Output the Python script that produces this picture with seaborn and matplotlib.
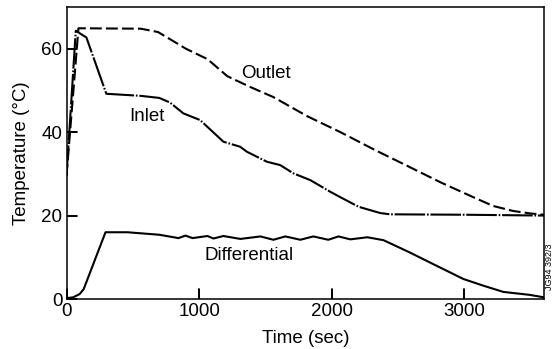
import matplotlib
matplotlib.use('Agg')
import matplotlib.pyplot as plt
import seaborn as sns
import pandas as pd

# ---- data ----
time_outlet = [0, 90, 560, 690, 806, 900, 1063, 1213, 1387, 1560, 1816, 2065, 2314, 2570, 2818, 3067, 3217, 3368, 3500, 3600]
outlet = [29.5, 64.9, 64.8, 64.0, 61.8, 60.0, 57.5, 53.4, 50.8, 48.4, 43.8, 40.0, 35.9, 31.9, 28.0, 24.4, 22.3, 21.1, 20.5, 20.2]

time_inlet = [0, 70, 150, 300, 560, 700, 780, 881, 1007, 1183, 1309, 1360, 1511, 1611, 1712, 1838, 1989, 2065, 2203, 2366, 2440, 3000, 3600]
inlet = [29.5, 64.3, 62.7, 49.2, 48.7, 48.2, 47.1, 44.5, 42.9, 37.7, 36.5, 35.3, 32.9, 32.1, 30.1, 28.5, 25.7, 24.4, 22.1, 20.6, 20.3, 20.2, 20.0]

time_diff = [0, 50, 100, 130, 294, 460, 700, 844, 897, 950, 1063, 1108, 1183, 1311, 1462, 1560, 1650, 1763, 1861, 1974, 2050, 2140, 2268, 2390, 2585, 2788, 2992, 3142, 3293, 3490, 3600]
diff = [0.2, 0.4, 1.2, 2.4, 16.0, 16.0, 15.4, 14.6, 15.2, 14.6, 15.1, 14.5, 15.1, 14.4, 15.0, 14.2, 15.0, 14.2, 15.0, 14.2, 15.0, 14.3, 14.8, 14.1, 11.2, 8.0, 4.8, 3.2, 1.7, 1.0, 0.4]

x_ticks = [0, 1000, 2000, 3000]
y_ticks = [0, 20, 40, 60]
series_labels = ['Outlet', 'Inlet', 'Differential']

df_out = pd.DataFrame({'t': time_outlet, 'T': outlet})
df_in = pd.DataFrame({'t': time_inlet, 'T': inlet})
df_diff = pd.DataFrame({'t': time_diff, 'T': diff})

sns.set_style('ticks', {'axes.edgecolor': 'black', 'text.color': 'black',
                        'xtick.color': 'black', 'ytick.color': 'black',
                        'axes.labelcolor': 'black',
                        'xtick.direction': 'in', 'ytick.direction': 'in',
                        'xtick.bottom': True, 'ytick.left': True,
                        'xtick.top': False, 'ytick.right': False})
plt.rcParams['font.family'] = ['Liberation Sans', 'DejaVu Sans']
plt.rcParams['lines.scale_dashes'] = False
plt.rcParams['xtick.major.size'] = 7
plt.rcParams['ytick.major.size'] = 7
plt.rcParams['xtick.major.width'] = 1.3
plt.rcParams['ytick.major.width'] = 1.3
plt.rcParams['xtick.major.pad'] = 3
plt.rcParams['ytick.major.pad'] = 3
plt.rcParams['xtick.labelsize'] = 13.5
plt.rcParams['ytick.labelsize'] = 13.5
plt.rcParams['axes.linewidth'] = 1.1

fig = plt.figure(figsize=(5.56, 3.49), dpi=100)
ax = fig.add_axes([66.5 / 556, 50 / 349, (544 - 66.5) / 556, (299 - 7) / 349])

sns.lineplot(data=df_out, x='t', y='T', ax=ax, color='black', linewidth=1.5,
             linestyle=(0, (8.5, 3)))
sns.lineplot(data=df_in, x='t', y='T', ax=ax, color='black', linewidth=1.5,
             linestyle=(0, (22, 1.3, 1.2, 1.3)))
sns.lineplot(data=df_diff, x='t', y='T', ax=ax, color='black', linewidth=1.5)

ax.set_xlim(0, 3600)
ax.set_ylim(0, 70)
ax.set_xticks(x_ticks)
ax.set_yticks(y_ticks)

# make sure the inward tick marks are drawn (axis-fraction lengths ~7 pt)
for xt in x_ticks:
    ax.axvline(xt, ymin=0, ymax=0.033, color='black', linewidth=1.3, zorder=5)
for yt in y_ticks:
    ax.axhline(yt, xmin=0, xmax=0.021, color='black', linewidth=1.3, zorder=5)

ax.set_xlabel('Time (sec)', fontsize=13.5, labelpad=7)
ax.set_ylabel('Temperature (°C)', fontsize=13.5, labelpad=8)

ax.text(1500, 54.1, series_labels[0], ha='center', va='center', fontsize=13.5)
ax.text(603, 43.8, series_labels[1], ha='center', va='center', fontsize=13.5)
ax.text(1375, 10.5, series_labels[2], ha='center', va='center', fontsize=13.5)

fig.text(549 / 556, 1 - 267 / 349, 'JG94 392/3', rotation=90, fontsize=6.5,
         ha='center', va='center')

fig.savefig('out.png', dpi=100)
